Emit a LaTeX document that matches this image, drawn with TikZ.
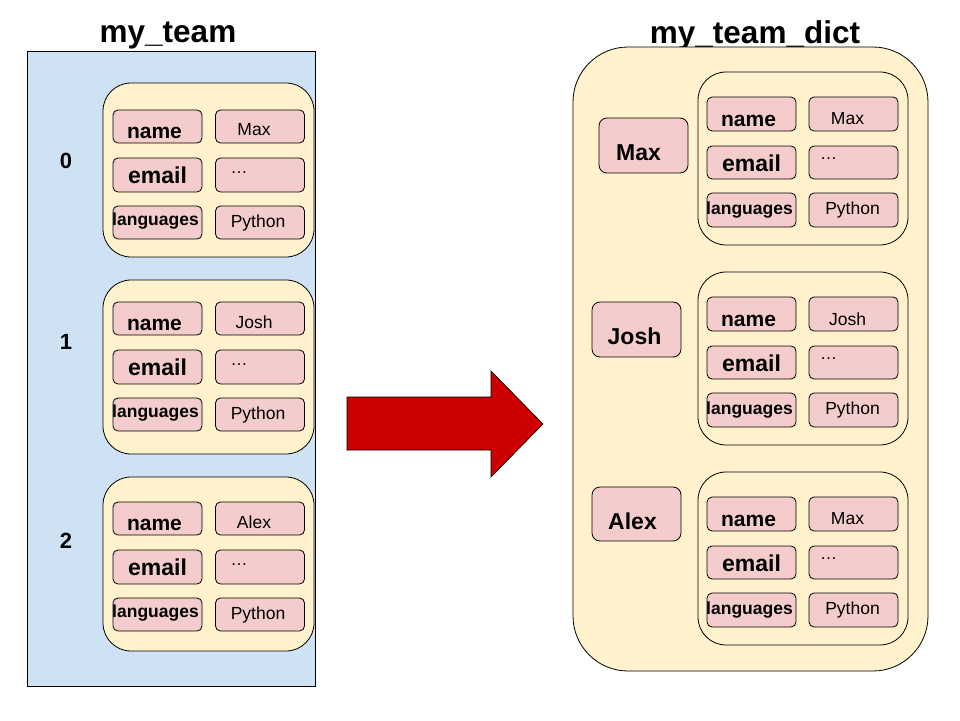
\documentclass[tikz,border=0pt]{standalone}
\usepackage{fontspec}
\setmainfont{Liberation Sans}
\definecolor{bluebg}{HTML}{CFE2F3}
\definecolor{cream}{HTML}{FFF2CC}
\definecolor{pinkc}{HTML}{F4CCCC}
\definecolor{redarrow}{HTML}{CC0000}
\tikzset{
  base/.style={draw=black, line width=0.8pt, inner sep=0pt, outer sep=0pt, anchor=north west},
  panel/.style={base, fill=bluebg},
  dictbox/.style={base, fill=cream, rounded corners=55pt},
  card/.style={base, fill=cream, rounded corners=28pt, minimum width=211, minimum height=174},
  cellbox/.style={base, fill=pinkc, rounded corners=5pt, minimum width=89, minimum height=33},
  keybox/.style={base, fill=pinkc, rounded corners=8pt, minimum width=89, minimum height=55},
  titlefont/.style={font=\fontsize{31.5}{36}\selectfont\bfseries, inner sep=0pt},
  namefont/.style={font=\fontsize{21}{25}\selectfont\bfseries, inner sep=0pt},
  emailfont/.style={font=\fontsize{23}{27}\selectfont\bfseries, inner sep=0pt},
  langfont/.style={font=\fontsize{17.5}{21}\selectfont\bfseries, inner sep=0pt},
  valfont/.style={font=\fontsize{17.5}{21}\selectfont, inner sep=0pt},
  dotfont/.style={font=\fontsize{17}{20}\selectfont, inner sep=0pt},
  idxfont/.style={font=\fontsize{22}{26}\selectfont\bfseries, inner sep=0pt},
  bigkeyfont/.style={font=\fontsize{23}{27}\selectfont\bfseries, inner sep=0pt},
  bigarrow/.style={fill=redarrow, draw=black, line width=0.6pt},
}
\begin{document}
\begin{tikzpicture}[x=1pt, y=-1pt]
  \useasboundingbox (0,0) rectangle (960,720);
  \fill[white] (0,0) rectangle (960,720);

  % titles
  \node[titlefont] (t1) at (168,35) {my\_team};
  \node[titlefont] (t2) at (755,35) {my\_team\_dict};

  % left list panel
  \node[panel, minimum width=288, minimum height=635] (leftpanel) at (27,51) {};

  \foreach \i/\ct/\rt/\val/\iy in {0/83/110/Max/161, 1/280/302/Josh/341.5, 2/477/502/Alex/541} {
    \node[idxfont] (idx\i) at (66,\iy) {\i};
    \node[card] (Lcard\i) at (103,\ct) {};
    \node[cellbox] (Lname\i) at (113,\rt) {};
    \node[namefont] (Lnamet\i) at ([shift={(-3,6)}]Lname\i.center) {name};
    \node[cellbox] (Lval\i) at (215.5,\rt) {};
    \node[valfont] (Lvalt\i) at ([shift={(-6,3.5)}]Lval\i.center) {\val};
    \node[cellbox, minimum height=34] (Lemail\i) at (113,\rt+48) {};
    \node[emailfont] (Lemailt\i) at ([shift={(0,0.5)}]Lemail\i.center) {email};
    \node[cellbox, minimum height=34] (Ledots\i) at (215.5,\rt+48) {};
    \node[dotfont] (Ledotst\i) at ([shift={(-21,-2)}]Ledots\i.center) {…};
    \node[cellbox] (Llang\i) at (113,\rt+96) {};
    \node[langfont] (Llangt\i) at ([shift={(-2,-1)}]Llang\i.center) {languages};
    \node[cellbox] (Lpy\i) at (215.5,\rt+96) {};
    \node[valfont] (Lpyt\i) at ([shift={(-2,0)}]Lpy\i.center) {Python};
  }

  % arrow
  \draw[bigarrow] (347,397) -- (491,397) -- (491,371) -- (543,424) -- (491,477) -- (491,450) -- (347,450) -- cycle;

  % right dict panel
  \node[dictbox, minimum width=355, minimum height=624] (rightpanel) at (573,47) {};

  \foreach \i/\ct/\rt/\val in {0/72/97/Max, 1/272/297/Josh, 2/472/497/Max} {
    \node[card, minimum width=210, minimum height=173] (Rcard\i) at (698,\ct) {};
    \node[cellbox, minimum height=34] (Rname\i) at (707,\rt) {};
    \node[namefont] (Rnamet\i) at ([shift={(-3,7)}]Rname\i.center) {name};
    \node[cellbox, minimum height=34] (Rval\i) at (809,\rt) {};
    \node[valfont] (Rvalt\i) at ([shift={(-6,5)}]Rval\i.center) {\val};
    \node[cellbox] (Remail\i) at (707,\rt+49) {};
    \node[emailfont] (Remailt\i) at ([shift={(0,0.5)}]Remail\i.center) {email};
    \node[cellbox] (Rdots\i) at (809,\rt+49) {};
    \node[dotfont] (Rdotst\i) at ([shift={(-25,-4)}]Rdots\i.center) {…};
    \node[cellbox, minimum height=34] (Rlang\i) at (707,\rt+96) {};
    \node[langfont] (Rlangt\i) at ([shift={(-2,0)}]Rlang\i.center) {languages};
    \node[cellbox, minimum height=34] (Rpy\i) at (809,\rt+96) {};
    \node[valfont] (Rpyt\i) at ([shift={(-1,0)}]Rpy\i.center) {Python};
  }

  \node[keybox] (kMax) at (599,118) {};
  \node[bigkeyfont] (kMaxt) at ([shift={(-5,7)}]kMax.center) {Max};
  \node[keybox] (kJosh) at (592,302) {};
  \node[bigkeyfont] (kJosht) at ([shift={(-2,7)}]kJosh.center) {Josh};
  \node[keybox, minimum height=54] (kAlex) at (592,487) {};
  \node[bigkeyfont] (kAlext) at ([shift={(-4,7)}]kAlex.center) {Alex};
\end{tikzpicture}
\end{document}
